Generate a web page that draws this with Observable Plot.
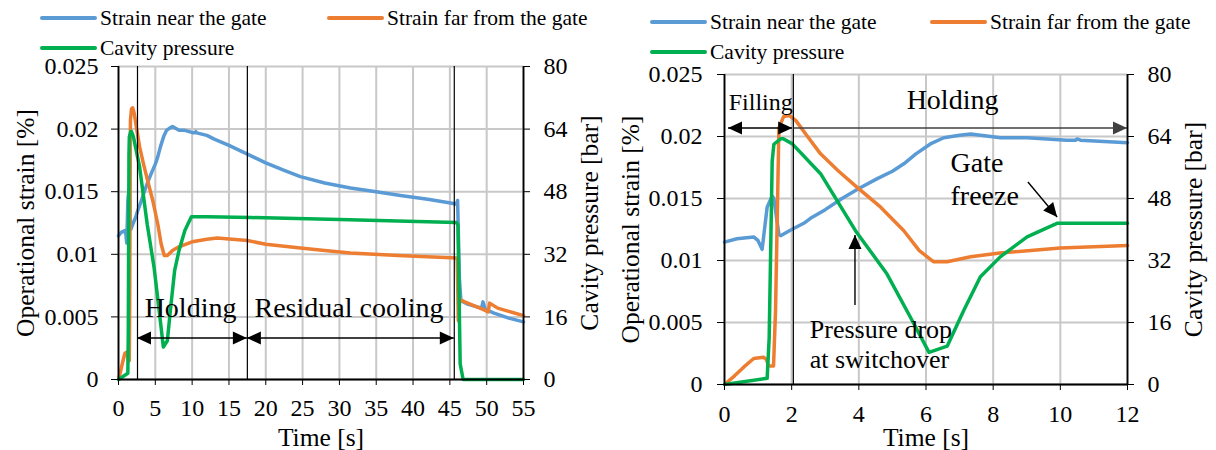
<!DOCTYPE html>
<html><head><meta charset="utf-8">
<script src="https://cdn.jsdelivr.net/npm/d3@7"></script>
<script src="https://cdn.jsdelivr.net/npm/@observablehq/plot@0.6"></script>
<style>
body{margin:0;background:#fff;}
#wrap{position:relative;width:1216px;height:450px;display:flex;font-family:"Liberation Serif","Times New Roman",serif;color:#000;}
.panel{width:608px;height:450px;display:flex;flex-direction:column;}
.legend{position:relative;height:60px;font-size:21.5px;flex:none;}
.item{position:absolute;display:flex;align-items:center;white-space:nowrap;height:24px;line-height:24px;}
.sw{width:57px;height:4px;border-radius:2px;margin-right:3px;}
svg text{font-family:"Liberation Serif","Times New Roman",serif;}
</style></head>
<body><div id="wrap"></div>
<script>
// ---- series (time in s) ----
const seriesNames = ["Strain near the gate", "Strain far from the gate", "Cavity pressure"];
const seriesColors = ["#5b9bd5", "#ed7d31", "#00b050"];

// operational strain [%] near the gate
const nearGate = [[0,0.01148],[0.37,0.01175],[0.87,0.0119],[1.0,0.0116],[1.12,0.0109],[1.27,0.0143],[1.42,0.0152],[1.47,0.0150],[1.62,0.0121],[1.67,0.0120],[2.0,0.0125],[2.36,0.0130],[2.56,0.0134],[3.0,0.0141],[3.5,0.0150],[4.0,0.0158],[4.55,0.0166],[5.0,0.0172],[5.34,0.0178],[5.7,0.0186],[6.13,0.0194],[6.53,0.0199],[7.0,0.0201],[7.33,0.0202],[8.22,0.0199],[9.0,0.0199],[10.2,0.0197],[10.45,0.0197],[10.5,0.0198],[10.6,0.0197],[12,0.0195],[13,0.0192],[15,0.0187],[17.5,0.0180],[20,0.0173],[22.5,0.0167],[24.7,0.0162],[28,0.0157],[31.5,0.0153],[35,0.0150],[38.3,0.0147],[42,0.0144],[45.1,0.0141],[45.9,0.0140],[46.05,0.0143],[46.3,0.0080],[46.5,0.0063],[47.5,0.0060],[49.3,0.0057],[49.5,0.0062],[49.8,0.0056],[51,0.0053],[53,0.0049],[55,0.0046]];

// operational strain [%] far from the gate
const farGate = [[0,0],[0.3,0.0007],[0.57,0.0014],[0.87,0.0021],[1.16,0.0022],[1.25,0.0020],[1.31,0.0015],[1.46,0.0015],[1.52,0.0060],[1.62,0.0207],[1.76,0.0216],[1.92,0.0217],[2.12,0.0213],[2.5,0.0199],[2.86,0.0186],[3.4,0.0172],[3.95,0.0159],[4.65,0.0143],[5.34,0.0124],[5.8,0.0108],[6.22,0.0099],[6.63,0.0099],[7.33,0.0103],[8.2,0.0106],[10,0.0110],[12,0.0112],[13.4,0.0113],[17.5,0.0111],[20,0.0108],[24.7,0.0105],[28,0.0103],[31.5,0.0101],[38,0.0099],[45.9,0.0097],[46.0,0.0095],[46.15,0.0047],[46.35,0.0064],[47,0.0062],[49.5,0.0056],[50.2,0.0054],[50.4,0.0061],[51.5,0.0057],[55,0.0051]];

// cavity pressure [bar]
const cavityPressure = [[0,0],[1.27,1.6],[1.33,12],[1.42,57.6],[1.47,62],[1.67,63.4],[1.75,63.4],[2.02,62.1],[2.86,54.4],[3.9,39.7],[4.84,28.5],[5.54,17.3],[6.09,8.3],[6.63,9.9],[7.13,19.2],[7.62,27.8],[8.22,33.0],[9.01,38.1],[9.9,41.6],[12,41.6],[18,41.4],[30,40.9],[45.9,40.1],[46.1,39.5],[46.4,4],[46.8,0],[55,0]];

// ---- axes ----
const strainMax = 0.025, pressureMax = 80;
const strainTicks = [0, 0.005, 0.01, 0.015, 0.02, 0.025];
const strainTickLabels = ["0", "0.005", "0.01", "0.015", "0.02", "0.025"];
const pressureTickLabels = ["0", "16", "32", "48", "64", "80"];
const leftTimeTicks = [0, 5, 10, 15, 20, 25, 30, 35, 40, 45, 50, 55];
const rightTimeTicks = [0, 2, 4, 6, 8, 10, 12];
const axisTitles = {x: "Time [s]", yLeft: "Operational strain [%]", yRight: "Cavity pressure [bar]"};

// ---- phase boundaries & annotations (data coordinates) ----
const leftPhaseTimes = [2.58, 17.5, 45.6];
const rightPhaseTimes = [2.05];
const leftTexts = [
  {t: 9.78, s: 0.00583, label: "Holding", size: 28, anchor: "middle"},
  {t: 31.3, s: 0.00583, label: "Residual cooling", size: 28, anchor: "middle"}
];
const leftArrows = [
  {x1: 2.58, y1: 0.00327, x2: 17.5, y2: 0.00327, start: true, end: true, color: "#000"},
  {x1: 17.5, y1: 0.00327, x2: 45.6, y2: 0.00327, start: true, end: true, color: "#000"}
];
const rightTexts = [
  {t: 1.08, s: 0.02285, label: "Filling", size: 24, anchor: "middle"},
  {t: 6.79, s: 0.02309, label: "Holding", size: 28, anchor: "middle"},
  {t: 6.73, s: 0.01665, label: "Gate\nfreeze", size: 28, anchor: "start"},
  {t: 2.54, s: 0.00333, label: "Pressure drop\nat switchover", size: 26, anchor: "start"}
];
const rightArrows = [
  {x1: 0.12, y1: 0.02065, x2: 2.03, y2: 0.02065, start: true, end: true, color: "#000"},
  {x1: 2.07, y1: 0.02065, x2: 12, y2: 0.02065, start: false, end: true, color: "#404040"},
  {x1: 3.9, y1: 0.00637, x2: 3.9, y2: 0.01202, start: false, end: true, color: "#000"},
  {x1: 9.05, y1: 0.01629, x2: 9.92, y2: 0.01347, start: false, end: true, color: "#000"}
];

// ---- build ----
const FONT = "Liberation Serif";
const strainPerBar = strainMax / pressureMax;
const toRows = arr => arr.map(([t, v]) => ({t, v}));
const nearRows = toRows(nearGate);
const farRows = toRows(farGate);
const presRows = cavityPressure.map(([t, p]) => ({t, v: p * strainPerBar}));

function arrowMark(arrows) {
  return (index, scales) => {
    const g = d3.create("svg:g");
    for (const a of arrows) {
      const x1 = scales.x(a.x1), y1 = scales.y(a.y1), x2 = scales.x(a.x2), y2 = scales.y(a.y2);
      g.append("line").attr("x1", x1).attr("y1", y1).attr("x2", x2).attr("y2", y2)
        .attr("stroke", a.color).attr("stroke-width", 1.4);
      const heads = [];
      if (a.end) heads.push([x2, y2, x1, y1]);
      if (a.start) heads.push([x1, y1, x2, y2]);
      for (const [tx, ty, fx, fy] of heads) {
        const ang = Math.atan2(ty - fy, tx - fx);
        const L = 14, W = 6.5;
        const bx = tx - L * Math.cos(ang), by = ty - L * Math.sin(ang);
        const px = -Math.sin(ang) * W, py = Math.cos(ang) * W;
        g.append("path").attr("d", `M${tx},${ty}L${bx + px},${by + py}L${bx - px},${by - py}Z`).attr("fill", a.color);
      }
    }
    return g.node();
  };
}

function makePanel(cfg) {
  const inRange = r => r.t <= cfg.xMax + 1e-9;
  const lineOpts = (i) => ({x: "t", y: "v", stroke: seriesColors[i], strokeWidth: 3.5, strokeLinejoin: "round", strokeLinecap: "round"});
  const textMarks = cfg.texts.map(d => Plot.text([d], {
    x: "t", y: "s", text: "label", fontSize: d.size, fontFamily: FONT, textAnchor: d.anchor, lineAnchor: "middle",
    lineHeight: d.size === 26 ? 1.15 : 1.18, fill: "#000"
  }));
  const axText = {fontFamily: FONT, fontSize: 24, color: "#000"};
  const titleOpts = {text: d => d, fontSize: 25.5, fontFamily: FONT, fill: "#000", textAnchor: "middle", lineAnchor: "middle"};
  const gridOpts = {stroke: "#c8c8c8", strokeOpacity: 1, strokeWidth: 2};
  return Plot.plot({
    width: 608, height: 390,
    marginLeft: cfg.mL, marginRight: cfg.mR, marginTop: cfg.mT, marginBottom: cfg.mB,
    style: {fontFamily: FONT, fontSize: "24px", color: "#000", background: "transparent", overflow: "visible"},
    x: {domain: [0, cfg.xMax]},
    y: {domain: [0, strainMax]},
    marks: [
      Plot.gridX(cfg.xTicks, gridOpts),
      Plot.gridY(strainTicks, gridOpts),
      Plot.line(nearRows.filter(inRange), lineOpts(0)),
      Plot.line(farRows.filter(inRange), lineOpts(1)),
      Plot.line(presRows.filter(inRange), lineOpts(2)),
      Plot.ruleX(cfg.phases, {stroke: "#000", strokeWidth: 1.2}),
      Plot.ruleX([0, cfg.xMax], {stroke: "#000", strokeWidth: 1.8}),
      Plot.ruleY([0], {stroke: "#000", strokeWidth: 1.8}),
      Plot.axisY(strainTicks, {anchor: "left", tickSize: 7, tickPadding: cfg.lPad, ...axText,
        tickFormat: d => strainTickLabels[strainTicks.indexOf(d)], label: null}),
      Plot.axisY(strainTicks, {anchor: "right", tickSize: 6, tickPadding: cfg.rPad, ...axText,
        tickFormat: d => pressureTickLabels[strainTicks.indexOf(d)], label: null}),
      Plot.axisX(cfg.xTicks, {anchor: "bottom", tickSize: 6, tickPadding: cfg.bPad, ...axText,
        tickFormat: d => String(d), label: null}),
      Plot.text([axisTitles.x], {...titleOpts, frameAnchor: "bottom", dy: cfg.xLabelDy}),
      Plot.text([axisTitles.yLeft], {...titleOpts, frameAnchor: "left", rotate: -90, dx: cfg.yLDx}),
      Plot.text([axisTitles.yRight], {...titleOpts, frameAnchor: "right", rotate: -90, dx: cfg.yRDx}),
      arrowMark(cfg.arrows),
      ...textMarks
    ]
  });
}

const panelCfgs = [
  {xMax: 55, xTicks: leftTimeTicks, phases: leftPhaseTimes, texts: leftTexts, arrows: leftArrows,
   mL: 118, mR: 85, mT: 6, mB: 71, lPad: 13, rPad: 14, bPad: 13, xLabelDy: 58, yLDx: -93, yRDx: 66,
   legend: [[40, 18], [327, 18], [40, 48]]},
  {xMax: 12, xTicks: rightTimeTicks, phases: rightPhaseTimes, texts: rightTexts, arrows: rightArrows,
   mL: 116, mR: 89, mT: 14, mB: 66, lPad: 15, rPad: 14, bPad: 14, xLabelDy: 53, yLDx: -94, yRDx: 66,
   legend: [[42, 22], [322, 22], [42, 52]]}
];

const wrap = document.getElementById("wrap");
for (const cfg of panelCfgs) {
  const panel = document.createElement("div");
  panel.className = "panel";
  const legend = document.createElement("div");
  legend.className = "legend";
  seriesNames.forEach((name, i) => {
    const item = document.createElement("div");
    item.className = "item";
    item.style.left = cfg.legend[i][0] + "px";
    item.style.top = (cfg.legend[i][1] - 12) + "px";
    const sw = document.createElement("span");
    sw.className = "sw";
    sw.style.background = seriesColors[i];
    const tx = document.createElement("span");
    tx.textContent = name;
    item.append(sw, tx);
    legend.append(item);
  });
  panel.append(legend, makePanel(cfg));
  wrap.append(panel);
}
</script>
</body></html>
